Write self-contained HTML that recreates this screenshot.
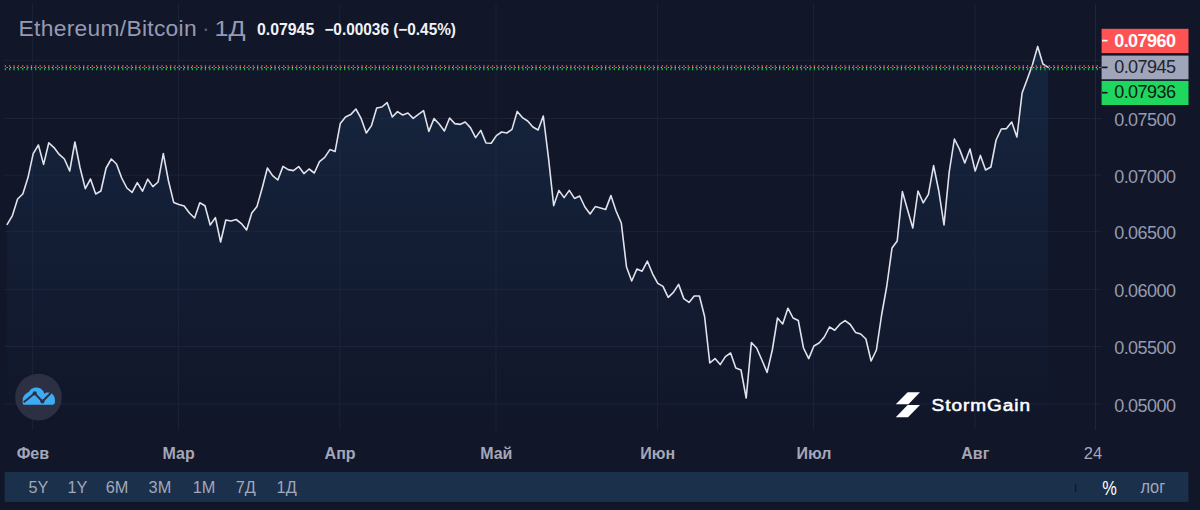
<!DOCTYPE html>
<html lang="ru">
<head>
<meta charset="utf-8">
<title>Ethereum/Bitcoin</title>
<style>
html,body{margin:0;padding:0;background:#111629;}
body{width:1200px;height:510px;overflow:hidden;position:relative;font-family:"Liberation Sans",Arial,sans-serif;}
</style>
</head>
<body>
<svg width="1200" height="510" viewBox="0 0 1200 510" style="position:absolute;left:0;top:0">
<defs><linearGradient id="ag" x1="0" y1="0" x2="0" y2="510" gradientUnits="userSpaceOnUse"><stop offset="0" stop-color="#1a3759" stop-opacity="0.52"/><stop offset="0.843" stop-color="#1a3759" stop-opacity="0.0"/></linearGradient></defs>
<line x1="32.6" y1="3.5" x2="32.6" y2="430" stroke="#1d2237" stroke-width="1"/>
<line x1="178.4" y1="3.5" x2="178.4" y2="430" stroke="#1d2237" stroke-width="1"/>
<line x1="339.8" y1="3.5" x2="339.8" y2="430" stroke="#1d2237" stroke-width="1"/>
<line x1="496.0" y1="3.5" x2="496.0" y2="430" stroke="#1d2237" stroke-width="1"/>
<line x1="657.4" y1="3.5" x2="657.4" y2="430" stroke="#1d2237" stroke-width="1"/>
<line x1="813.6" y1="3.5" x2="813.6" y2="430" stroke="#1d2237" stroke-width="1"/>
<line x1="975.0" y1="3.5" x2="975.0" y2="430" stroke="#1d2237" stroke-width="1"/>
<line x1="4.5" y1="60.6" x2="1102" y2="60.6" stroke="#1d2237" stroke-width="1"/>
<line x1="4.5" y1="118.5" x2="1102" y2="118.5" stroke="#1d2237" stroke-width="1"/>
<line x1="4.5" y1="175.2" x2="1102" y2="175.2" stroke="#1d2237" stroke-width="1"/>
<line x1="4.5" y1="231.7" x2="1102" y2="231.7" stroke="#1d2237" stroke-width="1"/>
<line x1="4.5" y1="289.6" x2="1102" y2="289.6" stroke="#1d2237" stroke-width="1"/>
<line x1="4.5" y1="346.5" x2="1102" y2="346.5" stroke="#1d2237" stroke-width="1"/>
<line x1="4.5" y1="404.0" x2="1102" y2="404.0" stroke="#1d2237" stroke-width="1"/>
<line x1="1095.6" y1="3.5" x2="1095.6" y2="430" stroke="#222740" stroke-width="1"/>
<path d="M7.2,430 L7.2,224.4 L12.4,215.6 L17.6,199.0 L22.8,194.0 L28.0,177.6 L33.2,153.6 L38.4,145.0 L43.6,164.4 L48.8,142.8 L54.0,147.6 L59.2,154.4 L64.4,159.0 L69.7,171.0 L74.9,142.0 L80.1,168.0 L85.3,188.6 L90.5,179.0 L95.7,194.0 L100.9,191.0 L106.1,168.0 L111.3,159.0 L116.5,164.0 L121.7,178.0 L126.9,188.0 L132.1,192.4 L137.3,182.6 L142.5,191.2 L147.7,179.2 L152.9,186.6 L158.1,182.0 L163.3,153.6 L168.5,181.0 L173.7,202.4 L178.9,204.4 L184.2,206.0 L189.4,213.0 L194.6,218.0 L199.8,202.8 L205.0,205.7 L210.2,225.0 L215.4,217.6 L220.6,242.0 L225.8,220.0 L231.0,221.0 L236.2,219.5 L241.4,223.6 L246.6,230.0 L251.8,213.0 L257.0,206.4 L262.2,188.0 L267.4,168.0 L272.6,175.6 L277.8,180.0 L283.0,166.4 L288.2,169.6 L293.4,170.6 L298.7,166.6 L303.9,173.6 L309.1,169.0 L314.3,173.0 L319.5,161.6 L324.7,157.4 L329.9,149.6 L335.1,151.4 L340.3,123.4 L345.5,117.0 L350.7,114.6 L355.9,109.0 L361.1,118.4 L366.3,133.0 L371.5,125.6 L376.7,108.0 L381.9,107.0 L387.1,102.6 L392.3,117.0 L397.5,111.6 L402.7,115.0 L407.9,113.0 L413.2,118.4 L418.4,114.4 L423.6,110.6 L428.8,131.4 L434.0,118.6 L439.2,124.0 L444.4,131.0 L449.6,118.0 L454.8,123.6 L460.0,124.4 L465.2,122.0 L470.4,127.6 L475.6,137.6 L480.8,130.4 L486.0,143.0 L491.2,143.2 L496.4,135.6 L501.6,132.0 L506.8,133.0 L512.0,129.4 L517.2,111.4 L522.4,117.6 L527.7,121.0 L532.9,127.0 L538.1,130.0 L543.3,116.0 L548.5,158.0 L553.7,205.6 L558.9,190.4 L564.1,197.6 L569.3,190.4 L574.5,198.4 L579.7,196.0 L584.9,207.0 L590.1,214.0 L595.3,206.6 L600.5,208.0 L605.7,209.4 L610.9,195.6 L616.1,211.0 L621.3,223.0 L626.5,267.0 L631.7,281.0 L636.9,269.0 L642.1,271.2 L647.4,261.2 L652.6,273.8 L657.8,283.4 L663.0,286.4 L668.2,297.4 L673.4,292.4 L678.6,284.4 L683.8,298.6 L689.0,302.4 L694.2,296.0 L699.4,296.0 L704.6,316.5 L709.8,363.0 L715.0,358.6 L720.2,364.6 L725.4,356.6 L730.6,353.0 L735.8,368.0 L741.0,370.0 L746.2,398.0 L751.4,342.5 L756.6,348.0 L761.9,360.0 L767.1,372.4 L772.3,350.0 L777.5,318.0 L782.7,324.0 L787.9,308.2 L793.1,318.0 L798.3,320.5 L803.5,348.0 L808.7,358.6 L813.9,346.0 L819.1,343.0 L824.3,337.0 L829.5,327.0 L834.7,330.2 L839.9,324.2 L845.1,320.6 L850.3,324.5 L855.5,332.4 L860.7,334.0 L865.9,339.0 L871.1,361.0 L876.4,350.0 L881.6,315.0 L886.8,286.0 L892.0,248.0 L897.2,241.0 L902.4,191.6 L907.6,210.0 L912.8,228.0 L918.0,191.0 L923.2,202.8 L928.4,194.4 L933.6,165.6 L938.8,191.0 L944.0,225.0 L949.2,172.0 L954.4,139.0 L959.6,149.4 L964.8,163.0 L970.0,149.0 L975.2,171.0 L980.4,155.4 L985.6,170.0 L990.9,167.0 L996.1,140.0 L1001.3,129.0 L1006.5,128.6 L1011.7,122.0 L1016.9,137.0 L1022.1,93.0 L1027.3,79.0 L1032.5,64.5 L1037.7,46.4 L1042.9,64.0 L1048.1,67.4 L1048.1,430 Z" fill="url(#ag)"/>
<polyline points="7.2,224.4 12.4,215.6 17.6,199.0 22.8,194.0 28.0,177.6 33.2,153.6 38.4,145.0 43.6,164.4 48.8,142.8 54.0,147.6 59.2,154.4 64.4,159.0 69.7,171.0 74.9,142.0 80.1,168.0 85.3,188.6 90.5,179.0 95.7,194.0 100.9,191.0 106.1,168.0 111.3,159.0 116.5,164.0 121.7,178.0 126.9,188.0 132.1,192.4 137.3,182.6 142.5,191.2 147.7,179.2 152.9,186.6 158.1,182.0 163.3,153.6 168.5,181.0 173.7,202.4 178.9,204.4 184.2,206.0 189.4,213.0 194.6,218.0 199.8,202.8 205.0,205.7 210.2,225.0 215.4,217.6 220.6,242.0 225.8,220.0 231.0,221.0 236.2,219.5 241.4,223.6 246.6,230.0 251.8,213.0 257.0,206.4 262.2,188.0 267.4,168.0 272.6,175.6 277.8,180.0 283.0,166.4 288.2,169.6 293.4,170.6 298.7,166.6 303.9,173.6 309.1,169.0 314.3,173.0 319.5,161.6 324.7,157.4 329.9,149.6 335.1,151.4 340.3,123.4 345.5,117.0 350.7,114.6 355.9,109.0 361.1,118.4 366.3,133.0 371.5,125.6 376.7,108.0 381.9,107.0 387.1,102.6 392.3,117.0 397.5,111.6 402.7,115.0 407.9,113.0 413.2,118.4 418.4,114.4 423.6,110.6 428.8,131.4 434.0,118.6 439.2,124.0 444.4,131.0 449.6,118.0 454.8,123.6 460.0,124.4 465.2,122.0 470.4,127.6 475.6,137.6 480.8,130.4 486.0,143.0 491.2,143.2 496.4,135.6 501.6,132.0 506.8,133.0 512.0,129.4 517.2,111.4 522.4,117.6 527.7,121.0 532.9,127.0 538.1,130.0 543.3,116.0 548.5,158.0 553.7,205.6 558.9,190.4 564.1,197.6 569.3,190.4 574.5,198.4 579.7,196.0 584.9,207.0 590.1,214.0 595.3,206.6 600.5,208.0 605.7,209.4 610.9,195.6 616.1,211.0 621.3,223.0 626.5,267.0 631.7,281.0 636.9,269.0 642.1,271.2 647.4,261.2 652.6,273.8 657.8,283.4 663.0,286.4 668.2,297.4 673.4,292.4 678.6,284.4 683.8,298.6 689.0,302.4 694.2,296.0 699.4,296.0 704.6,316.5 709.8,363.0 715.0,358.6 720.2,364.6 725.4,356.6 730.6,353.0 735.8,368.0 741.0,370.0 746.2,398.0 751.4,342.5 756.6,348.0 761.9,360.0 767.1,372.4 772.3,350.0 777.5,318.0 782.7,324.0 787.9,308.2 793.1,318.0 798.3,320.5 803.5,348.0 808.7,358.6 813.9,346.0 819.1,343.0 824.3,337.0 829.5,327.0 834.7,330.2 839.9,324.2 845.1,320.6 850.3,324.5 855.5,332.4 860.7,334.0 865.9,339.0 871.1,361.0 876.4,350.0 881.6,315.0 886.8,286.0 892.0,248.0 897.2,241.0 902.4,191.6 907.6,210.0 912.8,228.0 918.0,191.0 923.2,202.8 928.4,194.4 933.6,165.6 938.8,191.0 944.0,225.0 949.2,172.0 954.4,139.0 959.6,149.4 964.8,163.0 970.0,149.0 975.2,171.0 980.4,155.4 985.6,170.0 990.9,167.0 996.1,140.0 1001.3,129.0 1006.5,128.6 1011.7,122.0 1016.9,137.0 1022.1,93.0 1027.3,79.0 1032.5,64.5 1037.7,46.4 1042.9,64.0 1048.1,67.4" fill="none" stroke="#e0e3eb" stroke-width="1.6" stroke-linejoin="round" stroke-linecap="round"/>
<line x1="4.7" y1="69.2" x2="1101" y2="69.2" stroke="#14b34c" stroke-width="2.3" stroke-dasharray="1.3 3.05"/>
<line x1="4.7" y1="66.1" x2="1101" y2="66.1" stroke="#ff5656" stroke-width="1.5" stroke-dasharray="1.3 3.05"/>
<line x1="6.5" y1="67.5" x2="1101" y2="67.5" stroke="#b4b8cc" stroke-width="1.1" stroke-dasharray="1.2 2.28"/>
<rect x="1101.6" y="28.8" width="86.9" height="24.3" fill="#ff5252"/>
<rect x="1101.6" y="55.6" width="86.9" height="23.7" fill="#a0a5b9"/>
<rect x="1101.6" y="80.9" width="86.9" height="24.1" fill="#1fd65f"/>
<line x1="1102" y1="40.6" x2="1107.5" y2="40.6" stroke="#fff" stroke-width="1.7"/>
<line x1="1102" y1="67.4" x2="1107.5" y2="67.4" stroke="#131722" stroke-width="1.7"/>
<line x1="1102" y1="92.7" x2="1107.5" y2="92.7" stroke="#131722" stroke-width="1.7"/>
<text x="1114.2" y="46.5" font-family="Liberation Sans, Arial, sans-serif" font-size="18" letter-spacing="-0.55" fill="#ffffff" font-weight="bold">0.07960</text>
<text x="1114.2" y="73.1" font-family="Liberation Sans, Arial, sans-serif" font-size="18" letter-spacing="-0.55" fill="#20232e">0.07945</text>
<text x="1114.2" y="98.3" font-family="Liberation Sans, Arial, sans-serif" font-size="18" letter-spacing="-0.55" fill="#0d1a12">0.07936</text>
<text x="1114.2" y="126.2" font-family="Liberation Sans, Arial, sans-serif" font-size="18" letter-spacing="-0.55" fill="#969bb0">0.07500</text>
<text x="1114.2" y="182.9" font-family="Liberation Sans, Arial, sans-serif" font-size="18" letter-spacing="-0.55" fill="#969bb0">0.07000</text>
<text x="1114.2" y="239.4" font-family="Liberation Sans, Arial, sans-serif" font-size="18" letter-spacing="-0.55" fill="#969bb0">0.06500</text>
<text x="1114.2" y="297.3" font-family="Liberation Sans, Arial, sans-serif" font-size="18" letter-spacing="-0.55" fill="#969bb0">0.06000</text>
<text x="1114.2" y="354.2" font-family="Liberation Sans, Arial, sans-serif" font-size="18" letter-spacing="-0.55" fill="#969bb0">0.05500</text>
<text x="1114.2" y="411.7" font-family="Liberation Sans, Arial, sans-serif" font-size="18" letter-spacing="-0.55" fill="#969bb0">0.05000</text>
<text x="32.9" y="459" text-anchor="middle" font-family="Liberation Sans, Arial, sans-serif" font-size="16" font-weight="bold" fill="#a4a7b8">Фев</text>
<text x="178.70000000000002" y="459" text-anchor="middle" font-family="Liberation Sans, Arial, sans-serif" font-size="16" font-weight="bold" fill="#a4a7b8">Мар</text>
<text x="340.1" y="459" text-anchor="middle" font-family="Liberation Sans, Arial, sans-serif" font-size="16" font-weight="bold" fill="#a4a7b8">Апр</text>
<text x="496.3" y="459" text-anchor="middle" font-family="Liberation Sans, Arial, sans-serif" font-size="16" font-weight="bold" fill="#a4a7b8">Май</text>
<text x="657.6999999999999" y="459" text-anchor="middle" font-family="Liberation Sans, Arial, sans-serif" font-size="16" font-weight="bold" fill="#a4a7b8">Июн</text>
<text x="813.9" y="459" text-anchor="middle" font-family="Liberation Sans, Arial, sans-serif" font-size="16" font-weight="bold" fill="#a4a7b8">Июл</text>
<text x="975.3" y="459" text-anchor="middle" font-family="Liberation Sans, Arial, sans-serif" font-size="16" font-weight="bold" fill="#a4a7b8">Авг</text>
<text x="1093" y="459" text-anchor="middle" font-family="Liberation Sans, Arial, sans-serif" font-size="16.5" fill="#a3a7ba">24</text>
<rect x="4.7" y="471.9" width="1183.7" height="30" fill="#1b304a"/>
<text x="28.5" y="493" font-family="Liberation Sans, Arial, sans-serif" font-size="16.3" fill="#a2a7bb">5Y</text>
<text x="67.5" y="493" font-family="Liberation Sans, Arial, sans-serif" font-size="16.3" fill="#a2a7bb">1Y</text>
<text x="105.8" y="493" font-family="Liberation Sans, Arial, sans-serif" font-size="16.3" fill="#a2a7bb">6M</text>
<text x="148.6" y="493" font-family="Liberation Sans, Arial, sans-serif" font-size="16.3" fill="#a2a7bb">3M</text>
<text x="192.7" y="493" font-family="Liberation Sans, Arial, sans-serif" font-size="16.3" fill="#a2a7bb">1M</text>
<text x="235.8" y="493" font-family="Liberation Sans, Arial, sans-serif" font-size="16.3" fill="#a2a7bb">7Д</text>
<text x="276.6" y="493" font-family="Liberation Sans, Arial, sans-serif" font-size="16.3" fill="#a2a7bb">1Д</text>
<line x1="1075.6" y1="483.7" x2="1075.6" y2="492" stroke="#111629" stroke-width="1.2"/>
<text x="1102.3" y="494.7" font-family="Liberation Sans, Arial, sans-serif" font-size="19.6" fill="#ffffff" textLength="14.6" lengthAdjust="spacingAndGlyphs">%</text>
<text x="1140.4" y="492.8" font-family="Liberation Sans, Arial, sans-serif" font-size="17.5" fill="#a2a7bb" textLength="24.8" lengthAdjust="spacingAndGlyphs">лог</text>
<text x="18.6" y="36" font-family="Liberation Sans, Arial, sans-serif" font-size="22.8" fill="#969bb2" textLength="178" lengthAdjust="spacing">Ethereum/Bitcoin</text>
<text x="202" y="36" font-family="Liberation Sans, Arial, sans-serif" font-size="22.8" fill="#5d6279">·</text>
<text x="214.5" y="35.6" font-family="Liberation Sans, Arial, sans-serif" font-size="22.8" fill="#969bb2" textLength="31" lengthAdjust="spacingAndGlyphs">1Д</text>
<text x="257" y="35" font-family="Liberation Sans, Arial, sans-serif" font-size="16" font-weight="bold" fill="#f1f2f6" textLength="57.2" lengthAdjust="spacingAndGlyphs">0.07945</text>
<text x="324.4" y="35" font-family="Liberation Sans, Arial, sans-serif" font-size="16" font-weight="bold" fill="#f1f2f6" textLength="131.6" lengthAdjust="spacingAndGlyphs">−0.00036 (−0.45%)</text>
<circle cx="38.5" cy="397.1" r="23.3" fill="#2d3042"/>
<path d="M 24.12,404.71 L 52.94,404.71 Q 54.94,404.71 54.94,402.35 L 54.94,399.53 C 54.94,395.65 51.76,392.47 48.24,392.47 C 46.47,392.47 45.29,392.94 44.35,393.65 C 43.53,390.35 40.59,387.41 36.47,387.41 C 32.94,387.41 30.0,389.41 28.82,392.12 C 25.88,393.29 22.71,396.24 22.71,399.76 L 22.71,403.06 Q 22.71,404.71 24.12,404.71 Z" fill="#3cadf5"/>
<polyline points="23.7,402.3 34.7,393.3 42.4,401.5 50.8,393.0" fill="none" stroke="#2d3042" stroke-width="2"/>
<circle cx="34.7" cy="393.3" r="2.1" fill="#2d3042"/><circle cx="42.4" cy="401.5" r="2.1" fill="#2d3042"/>
<polygon points="907.6,392.2 920,392.2 908.4,404.2 895.8,404.2" fill="#ffffff"/>
<polygon points="907.6,404.9 920,404.9 908,417.2 895.8,417.2" fill="#ffffff"/>
<text x="931.6" y="410.7" font-family="Liberation Sans, Arial, sans-serif" font-size="16" fill="#ffffff" stroke="#ffffff" stroke-width="0.5" stroke-linejoin="round" letter-spacing="0.8" textLength="99.4" lengthAdjust="spacingAndGlyphs">StormGain</text>
</svg>
</body>
</html>
